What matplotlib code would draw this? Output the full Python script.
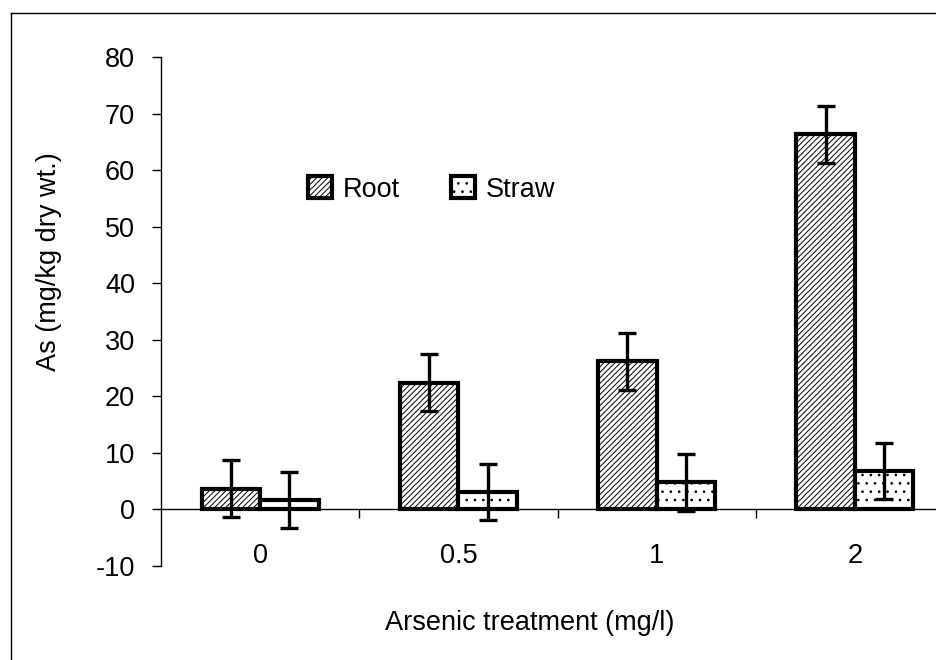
import matplotlib
matplotlib.use("Agg")
import matplotlib.pyplot as plt
from matplotlib.lines import Line2D

plt.rcParams['font.family'] = ['Liberation Sans', 'DejaVu Sans']
plt.rcParams['axes.unicode_minus'] = False
plt.rcParams['hatch.linewidth'] = 0.7

# data
treatments = ['0', '0.5', '1', '2']
root = [3.7, 22.4, 26.2, 66.3]
straw = [1.7, 3.1, 4.8, 6.8]
root_err = [5, 5, 5, 5]
straw_err = [5, 5, 5, 5]
y_ticks = [-10, 0, 10, 20, 30, 40, 50, 60, 70, 80]

W, H = 936, 660
fs = 19.5
fig = plt.figure(figsize=(W / 100, H / 100), dpi=100)
ax = fig.add_axes([161 / W, (H - 566) / H, 793 / W, 509 / H])

x = list(range(len(treatments)))
bw = 0.295
err_kw = dict(elinewidth=2.4, capthick=2.4, capsize=6.2, ecolor='black')

ax.bar([i - bw / 2 for i in x], root, bw, yerr=root_err, color='white',
       edgecolor='black', linewidth=3.0, hatch='//////', label='Root',
       error_kw=err_kw, zorder=2)
ax.bar([i + bw / 2 for i in x], straw, bw, yerr=straw_err, color='white',
       edgecolor='black', linewidth=3.0, hatch='..', label='Straw',
       error_kw=err_kw, zorder=2)

ax.set_xlim(-0.5, 3.5)
ax.set_ylim(-10, 80)
ax.set_yticks(y_ticks)

for s in ['top', 'right']:
    ax.spines[s].set_visible(False)
ax.spines['bottom'].set_position(('data', 0))
ax.spines['left'].set_linewidth(1.0)
ax.spines['bottom'].set_linewidth(1.0)

# category boundary ticks on the zero line, labels on minor ticks
ax.set_xticks([0.5, 1.5, 2.5, 3.5])
ax.set_xticklabels([])
ax.set_xticks(x, minor=True)
ax.set_xticklabels(treatments, minor=True)
ax.tick_params(axis='x', which='major', direction='out', length=6.5, width=1.0)
ax.tick_params(axis='x', which='minor', length=0, pad=24, labelsize=fs)
ax.tick_params(axis='y', direction='out', length=6.7, width=1.0, pad=12,
               labelsize=fs)

ax.legend(loc='center left', bbox_to_anchor=(0.1854, 0.7397), ncol=2,
          frameon=False, fontsize=fs, borderpad=0, borderaxespad=0,
          handlelength=0.88, handleheight=0.85, handletextpad=0.4,
          columnspacing=1.9)

fig.text(49 / W, 1 - 262 / H, 'As (mg/kg dry wt.)', rotation=90,
         ha='center', va='center', fontsize=fs)
fig.text(530 / W, 1 - 623 / H, 'Arsenic treatment (mg/l)',
         ha='center', va='center', fontsize=fs)

# outer frame of the original figure (left and top edges visible)
fig.add_artist(Line2D([11 / W, 11 / W], [0, 1 - 13 / H], color='black',
                      linewidth=1.0, transform=fig.transFigure))
fig.add_artist(Line2D([11 / W, 1], [1 - 13 / H, 1 - 13 / H], color='black',
                      linewidth=1.0, transform=fig.transFigure))

fig.savefig('out.png', dpi=100)
